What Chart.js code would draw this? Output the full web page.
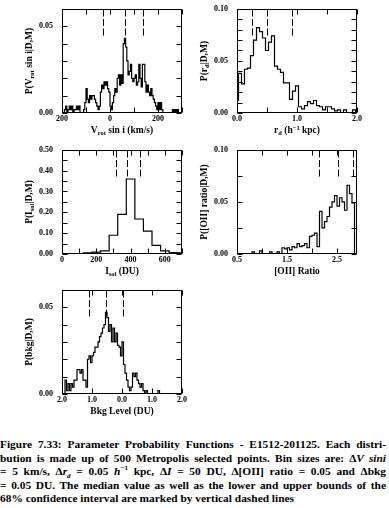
<!DOCTYPE html>
<html>
<head>
<meta charset="utf-8">
<script src="https://cdn.jsdelivr.net/npm/chart.js@4.4.1/dist/chart.umd.min.js"></script>
<style>
  body { margin: 0; background: #fff; width: 389px; height: 508px; overflow: hidden; position: relative; }
  canvas { position: absolute; }
  #cap { position: absolute; left: 0; top: 438px; width: 386px; font: bold 11.4px "Liberation Serif", serif; line-height: 13.5px; color: #000; }
  #cap div { white-space: nowrap; text-align: justify; text-align-last: justify; }
  #cap div.last { text-align-last: left; }
  #cap sub, #cap sup { font-size: 7px; line-height: 0; }
</style>
</head>
<body>
<canvas id="c1" width="190" height="145" style="left:0;top:-5px"></canvas>
<canvas id="c2" width="199" height="145" style="left:190px;top:-5px"></canvas>
<canvas id="c3" width="190" height="144" style="left:0;top:136px"></canvas>
<canvas id="c4" width="199" height="144" style="left:190px;top:136px"></canvas>
<canvas id="c5" width="190" height="144" style="left:0;top:276px"></canvas>
<div id="cap">
  <div>Figure 7.33: Parameter Probability Functions - E1512-201125. Each distri-</div>
  <div>bution is made up of 500 Metropolis selected points. Bin sizes are: &Delta;<i>V sini</i></div>
  <div>= 5 km/s, &Delta;<i>r<sub>d</sub></i> = 0.05 <i>h</i><sup>&minus;1</sup> kpc, &Delta;<i>I</i> = 50 DU, &Delta;[OII] ratio = 0.05 and &Delta;bkg</div>
  <div>= 0.05 DU. The median value as well as the lower and upper bounds of the</div>
  <div class="last">68% confidence interval are marked by vertical dashed lines</div>
</div>
<script>
// V_rot sin i, bins of 5 km/s starting at -200
const velStart = -200, velBin = 5;
const velProb = [
  0, 0, 0.002, 0.004, 0, 0.002, 0.004, 0.002, 0.004, 0,
  0.002, 0.002, 0.004, 0.002, 0.004, 0, 0, 0, 0.002, 0.006,
  0.014, 0.008, 0.006, 0.010, 0.008, 0.010, 0.010, 0.008, 0.006, 0.004,
  0.002, 0.004, 0.012, 0.016, 0.014, 0.018, 0.016, 0.018, 0.014, 0.012,
  0.004, 0.002, 0.006, 0.010, 0.014, 0.012, 0.020, 0.022, 0.016, 0.022,
  0.017, 0.040, 0.043, 0.038, 0.030, 0.022, 0.024, 0.028, 0.020, 0.018,
  0.020, 0.022, 0.016, 0.018, 0.028, 0.020, 0.015, 0.028, 0.028, 0.018,
  0.012, 0.016, 0.012, 0.010, 0.014, 0.010, 0.008, 0.006, 0.004, 0.002,
  0.006, 0.002, 0.006, 0.002, 0, 0, 0, 0, 0, 0,
  0, 0, 0.002, 0, 0.002, 0, 0.002, 0, 0, 0
];
const velMarks = [-30, 62, 138];

// r_d, bins of 0.05 centred on 0.00 ... 2.00
const rdStart = -0.025, rdBin = 0.05;
const rdProb = [
  0.012, 0.038, 0.028, 0.042, 0.043, 0.055, 0.070, 0.082, 0.078, 0.072,
  0.060, 0.068, 0.074, 0.045, 0.042, 0.039, 0.029, 0.029, 0.013, 0.021,
  0.026, 0.006, 0.004, 0.007, 0.011, 0.009, 0.012, 0.007, 0.006, 0.003,
  0.006, 0.006, 0.004, 0.002, 0.003, 0, 0.003, 0, 0, 0.003, 0
];
const rdMarks = [0.25, 0.50, 0.92];

// I_sol, bins of 50 DU centred on 150 ... 700
const isolStart = 125, isolBin = 50;
const isolProb = [0.005, 0.009, 0.015, 0.090, 0.190, 0.360, 0.168, 0.110, 0.041, 0.015, 0.007, 0.005];
const isolMarks = [317, 381, 453];

// [OII] ratio, bins of 0.05 starting at 0.80
const oiiStart = 0.80, oiiBin = 0.05;
const oiiProb = [
  0.002, 0, 0, 0.003, 0, 0, 0, 0.002, 0, 0,
  0.002, 0, 0.006, 0.005, 0.006, 0.004, 0.007, 0.006, 0.010, 0.007,
  0.008, 0.010, 0.006, 0.017, 0.018, 0.020, 0.007, 0.041, 0.025, 0.031,
  0.036, 0.045, 0.050, 0.056, 0.046, 0.054, 0.050, 0.042, 0.066, 0.058,
  0.049
];
const oiiMarks = [2.14, 2.52, 2.81];

// background level, bins of 0.05 DU starting at -2.0
const bkgStart = -2.0, bkgBin = 0.05;
const bkgProb = [
  0, 0, 0.008, 0.002, 0.006, 0.002, 0.006, 0.004, 0.008, 0.008,
  0.014, 0.014, 0.012, 0.014, 0.008, 0.008, 0.004, 0.020, 0.022, 0.018,
  0.022, 0.024, 0.027, 0.027, 0.030, 0.033, 0.035, 0.038, 0.040, 0.047,
  0.044, 0.036, 0.040, 0.030, 0.038, 0.030, 0.035, 0.028, 0.027, 0.022,
  0.030, 0.017, 0.012, 0.008, 0.004, 0.002, 0.004, 0.012, 0.010, 0.012,
  0.008, 0.006, 0.004, 0.006, 0.002, 0, 0.002, 0, 0, 0,
  0, 0, 0, 0, 0.002, 0, 0, 0, 0, 0,
  0, 0, 0, 0, 0, 0, 0, 0, 0, 0
];
const bkgMarks = [-1.10, -0.52, 0.03];

// tick labels (minus signs are lost in the original)
const velTickVals = [-200, 0, 200], velTickText = ["200", "0", "200"];
const rdTickVals = [0, 1, 2], rdTickText = ["0.0", "1.0", "2.0"];
const isolTickVals = [0, 200, 400, 600], isolTickText = ["0", "200", "400", "600"];
const oiiTickVals = [0.5, 1.5, 2.5], oiiTickText = ["0.5", "1.5", "2.5"];
const bkgTickVals = [-2, -1, 0, 1, 2], bkgTickText = ["2.0", "1.0", "0.0", "1.0", "2.0"];
const p06TickVals = [0, 0.05], p06TickText = ["0.00", "0.05"];
const p10TickVals = [0, 0.05, 0.1], p10TickText = ["0.00", "0.05", "0.10"];
const p50TickVals = [0, 0.1, 0.2, 0.3, 0.4, 0.5], p50TickText = ["0.00", "0.10", "0.20", "0.30", "0.40", "0.50"];

const FONT = "Liberation Serif";

function steps(start, width, vals) {
  const pts = [{ x: start, y: 0 }];
  vals.forEach((v, i) => pts.push({ x: start + i * width, y: v }));
  pts.push({ x: start + vals.length * width, y: 0 });
  return pts;
}

function labeler(vals, text) {
  return (v) => {
    const k = vals.findIndex(t => Math.abs(t - v) < 1e-6);
    return k < 0 ? "" : text[k];
  };
}

function drawRich(ctx, parts, cx, cy, rot) {
  const big = "bold 9.5px '" + FONT + "'", small = "bold 6.5px '" + FONT + "'";
  let w = 0;
  parts.forEach(([t, s]) => { ctx.font = s ? small : big; w += ctx.measureText(t).width; });
  ctx.save();
  ctx.translate(cx, cy);
  if (rot) ctx.rotate(-Math.PI / 2);
  ctx.textBaseline = "middle";
  ctx.textAlign = "left";
  let x = -w / 2;
  parts.forEach(([t, s]) => {
    ctx.font = s ? small : big;
    ctx.fillText(t, x, s === 1 ? 2.5 : s === 2 ? -3 : 0);
    x += ctx.measureText(t).width;
  });
  ctx.restore();
}

const frame = {
  id: "frame",
  afterDraw(chart, args, o) {
    const { ctx, chartArea: a, scales: { x, y } } = chart;
    const L = Math.round(a.left) + 0.5, R = Math.round(a.right) - 0.5;
    const T = Math.round(a.top) + 0.5, B = Math.round(a.bottom) - 0.5;
    ctx.save();
    ctx.strokeStyle = "#000";
    ctx.lineWidth = 1;
    ctx.strokeRect(L, T, R - L, B - T);
    ctx.beginPath();
    x.ticks.forEach(t => {
      const p = Math.round(x.getPixelForValue(t.value)) + 0.5;
      ctx.moveTo(p, T); ctx.lineTo(p, T + 5);
      ctx.moveTo(p, B); ctx.lineTo(p, B - 5);
    });
    y.ticks.forEach(t => {
      const p = Math.round(y.getPixelForValue(t.value)) + 0.5;
      ctx.moveTo(L, p); ctx.lineTo(L + 5, p);
      ctx.moveTo(R, p); ctx.lineTo(R - 5, p);
    });
    ctx.stroke();
    ctx.setLineDash([7, 2.5]);
    ctx.beginPath();
    o.marks.forEach(v => {
      const p = Math.round(x.getPixelForValue(v)) + 0.5;
      ctx.moveTo(p, T); ctx.lineTo(p, T + (B - T) * 0.26);
    });
    ctx.stroke();
    ctx.setLineDash([]);
    ctx.fillStyle = "#000";
    drawRich(ctx, o.xTitle, (L + R) / 2, B + 18.5, false);
    drawRich(ctx, o.yTitle, L - 32.5, (T + B) / 2, true);
    ctx.restore();
  }
};

function panel(id, cfg) {
  new Chart(document.getElementById(id), {
    type: "line",
    data: {
      datasets: [{
        data: cfg.points,
        stepped: true,
        borderColor: "#000",
        borderWidth: 1.2,
        pointRadius: 0,
        fill: false
      }]
    },
    options: {
      responsive: false,
      animation: false,
      events: [],
      layout: { padding: { top: 8, right: cfg.padR, left: 0, bottom: 0 } },
      plugins: {
        legend: { display: false },
        tooltip: { enabled: false },
        frame: { marks: cfg.marks, xTitle: cfg.xTitle, yTitle: cfg.yTitle }
      },
      scales: {
        x: {
          type: "linear",
          min: cfg.xMin, max: cfg.xMax,
          grid: { display: false, drawTicks: false },
          border: { display: false },
          afterFit: (s) => { s.height = cfg.xH; },
          ticks: {
            stepSize: cfg.xStep, includeBounds: false, autoSkip: false, maxRotation: 0,
            padding: 1, color: "#000", font: { family: FONT, size: 8, weight: "bold" },
            callback: cfg.xLabel
          }
        },
        y: {
          min: 0, max: cfg.yMax,
          grid: { display: false, drawTicks: false },
          border: { display: false },
          afterFit: (s) => { s.width = cfg.yW; },
          ticks: {
            stepSize: cfg.yStep, autoSkip: false,
            padding: 9, color: "#000", font: { family: FONT, size: 8, weight: "bold" },
            callback: cfg.yLabel
          }
        }
      }
    },
    plugins: [frame]
  });
}

panel("c1", {
  points: steps(velStart, velBin, velProb), marks: velMarks,
  xMin: -200, xMax: 300, xStep: 100, xLabel: labeler(velTickVals, velTickText),
  yMax: 0.06, yStep: 0.01, yLabel: labeler(p06TickVals, p06TickText),
  yW: 62, padR: 8, xH: 27,
  xTitle: [["V", 0], ["rot", 1], [" sin i (km/s)", 0]],
  yTitle: [["P(V", 0], ["rot", 1], [" sin i|D,M)", 0]]
});
panel("c2", {
  points: steps(rdStart, rdBin, rdProb), marks: rdMarks,
  xMin: 0, xMax: 2, xStep: 0.5, xLabel: labeler(rdTickVals, rdTickText),
  yMax: 0.1, yStep: 0.01, yLabel: labeler(p10TickVals, p10TickText),
  yW: 47, padR: 32, xH: 27,
  xTitle: [["r", 0], ["d", 1], [" (h", 0], ["\u22121", 2], [" kpc)", 0]],
  yTitle: [["P(r", 0], ["d", 1], ["|D,M)", 0]]
});
panel("c3", {
  points: steps(isolStart, isolBin, isolProb), marks: isolMarks,
  xMin: 0, xMax: 700, xStep: 100, xLabel: labeler(isolTickVals, isolTickText),
  yMax: 0.5, yStep: 0.05, yLabel: labeler(p50TickVals, p50TickText),
  yW: 62, padR: 8, xH: 26,
  xTitle: [["I", 0], ["sol", 1], [" (DU)", 0]],
  yTitle: [["P(I", 0], ["sol", 1], ["|D,M)", 0]]
});
panel("c4", {
  points: steps(oiiStart, oiiBin, oiiProb), marks: oiiMarks,
  xMin: 0.5, xMax: 2.9, xStep: 0.5, xLabel: labeler(oiiTickVals, oiiTickText),
  yMax: 0.1, yStep: 0.025, yLabel: labeler(p10TickVals, p10TickText),
  yW: 47, padR: 32, xH: 26,
  xTitle: [["[OII] Ratio", 0]],
  yTitle: [["P([OII] ratio|D,M)", 0]]
});
panel("c5", {
  points: steps(bkgStart, bkgBin, bkgProb), marks: bkgMarks,
  xMin: -2, xMax: 2, xStep: 1, xLabel: labeler(bkgTickVals, bkgTickText),
  yMax: 0.06, yStep: 0.01, yLabel: labeler(p06TickVals, p06TickText),
  yW: 62, padR: 8, xH: 26,
  xTitle: [["Bkg Level (DU)", 0]],
  yTitle: [["P(bkg|D,M)", 0]]
});
</script>
</body>
</html>
